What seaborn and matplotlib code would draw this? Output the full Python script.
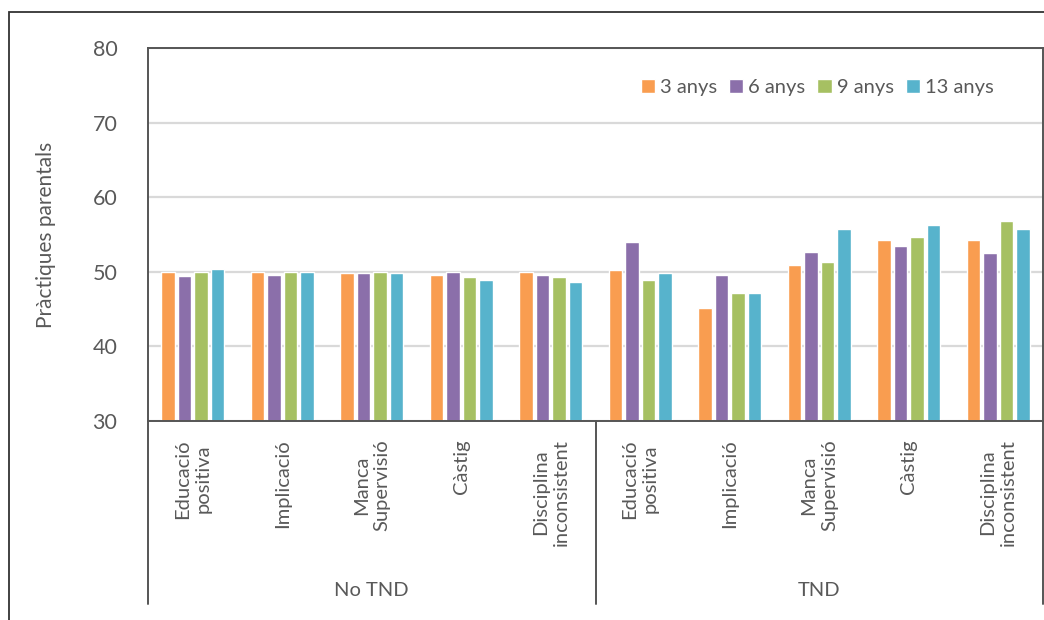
import matplotlib
matplotlib.use("Agg")
import matplotlib.pyplot as plt
import seaborn as sns
import pandas as pd
from matplotlib.patches import Rectangle

groups = ["No TND", "TND"]
categories = ["Educació\npositiva", "Implicació", "Manca\nSupervisió", "Càstig", "Disciplina\ninconsistent"]
ages = ["3 anys", "6 anys", "9 anys", "13 anys"]

no_tnd_3 = [50.0, 50.0, 49.8, 49.6, 50.0]
no_tnd_6 = [49.5, 49.6, 49.8, 50.0, 49.6]
no_tnd_9 = [50.0, 50.0, 50.0, 49.3, 49.3]
no_tnd_13 = [50.4, 50.0, 49.8, 48.9, 48.6]

tnd_3 = [50.2, 45.2, 50.9, 54.3, 54.3]
tnd_6 = [54.0, 49.6, 52.7, 53.4, 52.5]
tnd_9 = [48.9, 47.1, 51.3, 54.7, 56.8]
tnd_13 = [49.9, 47.1, 55.7, 56.3, 55.7]

colors = ["#F99D50", "#8B6FAA", "#A6C062", "#57B3CC"]

series = {
    "No TND": [no_tnd_3, no_tnd_6, no_tnd_9, no_tnd_13],
    "TND": [tnd_3, tnd_6, tnd_9, tnd_13],
}

rows = []
order = []
for g in groups:
    for ci, c in enumerate(categories):
        key = f"{g}|{c}"
        order.append(key)
        for ai, a in enumerate(ages):
            rows.append({"x": key, "age": a, "value": series[g][ai][ci]})
df = pd.DataFrame(rows)

sns.set_theme(style="white")
plt.rcParams["font.family"] = ["Lato", "DejaVu Sans"]
txt = "#595959"

fig = plt.figure(figsize=(10.44, 6.20), dpi=100)
ax = fig.add_axes([148 / 1044, 1 - 421 / 620, (1043 - 148) / 1044, (421 - 48) / 620])

sns.barplot(data=df, x="x", y="value", hue="age", order=order, hue_order=ages,
            palette=colors, width=0.74, gap=0.2, ax=ax, saturation=1, legend=True)

ax.set_ylim(30, 80)
ax.set_yticks([30, 40, 50, 60, 70, 80])
ax.set_xlim(-0.5, 9.5)
ax.yaxis.grid(True, color="#D9D9D9", linewidth=1.6)
ax.set_axisbelow(True)
for s in ax.spines.values():
    s.set_visible(True)
    s.set_color("#555555")
    s.set_linewidth(1.4)

ax.tick_params(axis="y", length=0, pad=22, labelsize=15.5, labelcolor=txt)
ax.tick_params(axis="x", length=0, pad=13, labelsize=14.5, labelcolor=txt)
ax.set_xticks(range(len(order)))
ax.set_xticklabels([k.split("|")[1] for k in order], rotation=90, va="top",
                   ha="center", multialignment="center", linespacing=1.25)
ax.set_xlabel("")
ax.set_ylabel("Pràctiques parentals", fontsize=15, color=txt, labelpad=26)

# group separators and labels
trans = ax.get_xaxis_transform()
sep_bottom = -(604 - 421) / 373
for xv in [-0.5, 4.5, 9.5]:
    ax.plot([xv, xv], [0, sep_bottom], transform=trans, color="#555555",
            lw=1.4, clip_on=False)
for gi, g in enumerate(groups):
    ax.text(gi * 5 + 2, -(590 - 421) / 373, g, transform=trans, ha="center",
            va="center", fontsize=14.5, color=txt)

ax.legend(loc="center right", bbox_to_anchor=(0.965, 0.893), ncol=4, frameon=False,
          fontsize=14.5, handlelength=0.7, handleheight=0.7, handletextpad=0.25,
          columnspacing=0.6, labelcolor=txt)

# outer frame
fig.patches.append(Rectangle((9 / 1044, -0.05), 1.2, 1 - 12 / 620 + 0.05,
                             transform=fig.transFigure, fill=False,
                             edgecolor="#333333", linewidth=1.3))

fig.savefig("out.png", dpi=100)
